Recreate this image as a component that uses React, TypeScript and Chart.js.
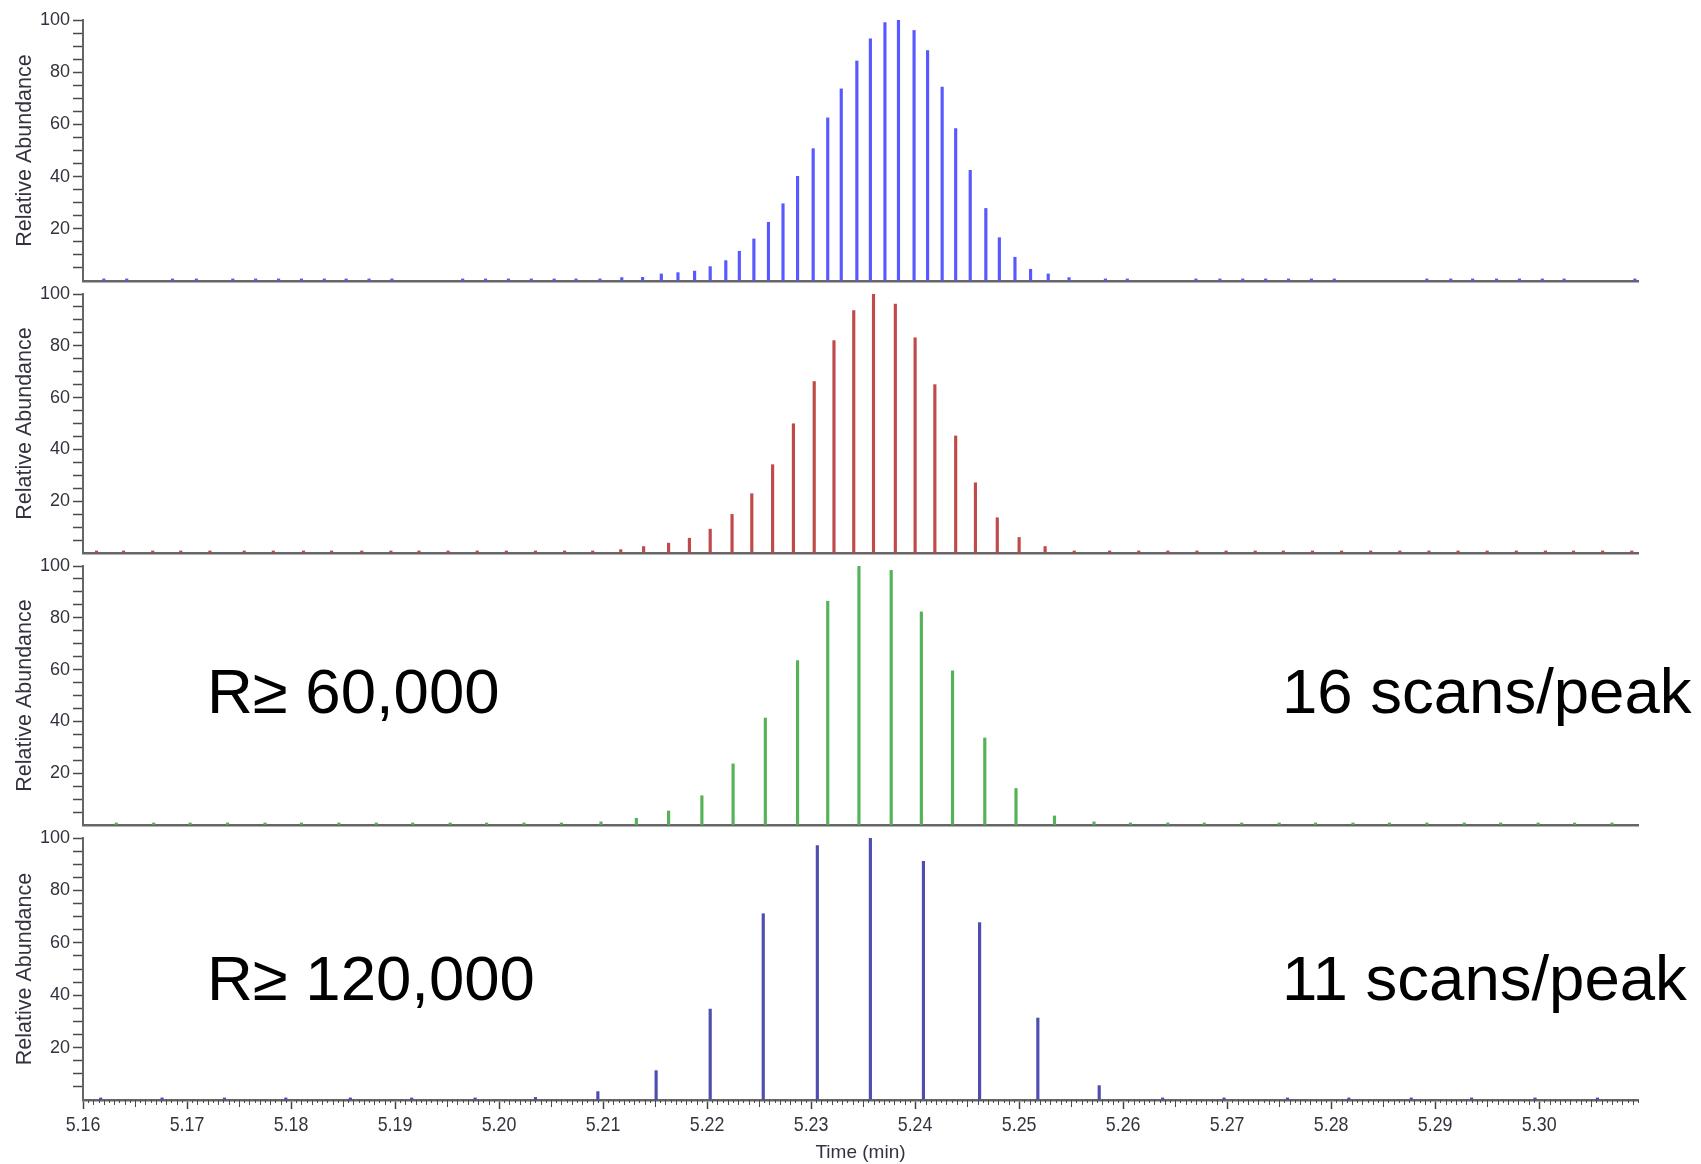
import React, { useEffect, useRef } from "react";
import { Chart, registerables } from "chart.js";

Chart.register(...registerables);

// ---------- data ----------
const X_MIN = 5.16;
const X_MAX = 5.3095;
const X_TICKS = [5.16, 5.17, 5.18, 5.19, 5.2, 5.21, 5.22, 5.23, 5.24, 5.25, 5.26, 5.27, 5.28, 5.29, 5.3];
const Y_TICKS = [0, 5, 10, 15, 20, 25, 30, 35, 40, 45, 50, 55, 60, 65, 70, 75, 80, 85, 90, 95, 100];
const Y_LABELS = [20, 40, 60, 80, 100];

// Panel 1 (blue)
const P1_TIME = [
  5.162, 5.1642, 5.1686, 5.1709, 5.1744, 5.1766, 5.1788, 5.181, 5.1832, 5.1853, 5.1875, 5.1897,
  5.1965, 5.1987, 5.2009, 5.2031, 5.2053, 5.2074, 5.2097,
  5.2118, 5.2138, 5.2156, 5.2172, 5.2188, 5.2203, 5.2218, 5.2231, 5.2245, 5.2259, 5.2273, 5.2287,
  5.2302, 5.2316, 5.2329, 5.2344, 5.2357, 5.2371, 5.2384, 5.2399, 5.2412, 5.2426, 5.2439, 5.2453,
  5.2468, 5.2481, 5.2496, 5.2511, 5.2528, 5.2548, 5.2583,
  5.2604, 5.267, 5.2693, 5.2715, 5.2737, 5.2759, 5.2781, 5.2803, 5.2892, 5.2915, 5.2936, 5.2959,
  5.2981, 5.3003, 5.3024, 5.3092,
];
const P1_ABUND = [
  0.8, 0.8, 0.8, 0.8, 0.8, 0.8, 0.8, 0.8, 0.8, 0.8, 0.8, 0.8,
  0.8, 0.8, 0.8, 0.8, 0.8, 0.8, 0.8,
  1.3, 1.4, 2.7, 3.2, 3.8, 5.5, 7.8, 11.4, 16.1, 22.5, 29.6, 40.1,
  50.7, 62.5, 73.6, 84.3, 92.8, 99.0, 100, 96.0, 88.3, 74.3, 58.4, 42.4,
  27.8, 16.6, 9.1, 4.5, 2.7, 1.3, 0.8,
  0.8, 0.8, 0.8, 0.8, 0.8, 0.8, 0.8, 0.8, 0.8, 0.8, 0.8, 0.8,
  0.8, 0.8, 0.8, 0.8,
];

// Panel 2 (red)
const P2_TIME = [
  5.1613, 5.1639, 5.1667, 5.1694, 5.1722, 5.1755, 5.1783, 5.1812, 5.1839, 5.1868, 5.1896, 5.1923,
  5.1951, 5.1979, 5.2007, 5.2035, 5.2063, 5.209,
  5.2117, 5.2139, 5.2163, 5.2183, 5.2203, 5.2224, 5.2243, 5.2263, 5.2283, 5.2303, 5.2322, 5.2341,
  5.236, 5.2381, 5.24, 5.2419, 5.2439, 5.2458, 5.2479, 5.25, 5.2525, 5.2553, 5.2587,
  5.2615, 5.2643, 5.2671, 5.2699, 5.2727, 5.2754, 5.2782, 5.281, 5.2838, 5.2866, 5.2894, 5.2922,
  5.295, 5.2978, 5.3006, 5.3033, 5.3061, 5.3089,
];
const P2_ABUND = [
  0.8, 0.8, 0.8, 0.8, 0.8, 0.8, 0.8, 0.8, 0.8, 0.8, 0.8, 0.8,
  0.8, 0.8, 0.8, 0.8, 0.8, 0.8,
  1.3, 2.5, 3.8, 5.7, 9.2, 14.9, 22.9, 34.1, 49.9, 66.2, 82.0, 93.6,
  100, 96.1, 83.1, 65.0, 45.2, 27.1, 13.6, 6.0, 2.5, 0.8, 0.8,
  0.8, 0.8, 0.8, 0.8, 0.8, 0.8, 0.8, 0.8, 0.8, 0.8, 0.8, 0.8,
  0.8, 0.8, 0.8, 0.8, 0.8, 0.8,
];

// Panel 3 (green)
const P3_TIME = [
  5.1632, 5.1668, 5.1703, 5.1739, 5.1775, 5.181, 5.1846, 5.1882, 5.1917, 5.1953, 5.1988, 5.2024,
  5.206, 5.2098, 5.2132, 5.2163, 5.2195, 5.2225, 5.2256, 5.2287, 5.2316, 5.2346, 5.2377, 5.2406,
  5.2436, 5.2467, 5.2497, 5.2534, 5.2572,
  5.2607, 5.2643, 5.2678, 5.2714, 5.275, 5.2785, 5.2821, 5.2856, 5.2892, 5.2928, 5.2963, 5.2999,
  5.3034, 5.307,
];
const P3_ABUND = [
  0.8, 0.8, 0.8, 0.8, 0.8, 0.8, 0.8, 0.8, 0.8, 0.8, 0.8, 0.8,
  0.8, 1.2, 2.6, 5.4, 11.3, 23.6, 41.3, 63.5, 86.4, 100, 98.3, 82.3,
  59.5, 33.6, 14.1, 3.5, 1.2,
  0.8, 0.8, 0.8, 0.8, 0.8, 0.8, 0.8, 0.8, 0.8, 0.8, 0.8, 0.8,
  0.8, 0.8,
];

// Panel 4 (dark blue)
const P4_TIME = [
  5.1617, 5.1676, 5.1736, 5.1795, 5.1857, 5.1916, 5.1977,
  5.2035, 5.2095, 5.2151, 5.2203, 5.2254, 5.2306, 5.2357, 5.2408, 5.2462, 5.2518, 5.2577,
  5.2638, 5.2697, 5.2758, 5.2817, 5.2877, 5.2935, 5.2996, 5.3056,
];
const P4_ABUND = [
  0.8, 0.8, 0.8, 0.8, 0.8, 0.8, 0.8,
  1.0, 3.2, 11.2, 34.7, 71.1, 97.1, 100, 91.1, 67.7, 31.3, 5.5,
  0.8, 0.8, 0.8, 0.8, 0.8, 0.8, 0.8, 0.8,
];

const PANEL_TIMES = [P1_TIME, P2_TIME, P3_TIME, P4_TIME];
const PANEL_ABUND = [P1_ABUND, P2_ABUND, P3_ABUND, P4_ABUND];

const ANNOTATION_LEFT = ["R\u2265 60,000", "R\u2265 120,000"];
const ANNOTATION_RIGHT = ["16 scans/peak", "11 scans/peak"];

// ---------- styles / layout ----------
const W = 1701;
const H = 1164;
const PLOT_LEFT = 83;
const PLOT_RIGHT = 1638;
const PANEL_TOPS = [20, 294, 566, 838];
const PANEL_BOTTOMS = [281, 553, 825, 1100];
const PANEL_COLORS = ["rgb(88,88,255)", "rgb(192,74,74)", "rgb(86,178,86)", "rgb(78,78,176)"];
const AXIS_COLOR = "#666666";
const TEXT_COLOR = "#33333f";
const REGULAR = "'Liberation Sans', Arial, sans-serif";

const minorTicksPlugin = {
  id: "minorTicks",
  afterDraw(chart: any) {
    const xs = chart.scales.x;
    const ctx = chart.ctx;
    const y0 = xs.top;
    ctx.save();
    ctx.strokeStyle = "#4a4a4a";
    ctx.lineWidth = 1;
    for (let k = 0; ; k++) {
      const v = X_MIN + k * 0.0005;
      if (v > X_MAX + 1e-9) break;
      if (k % 20 === 0) continue;
      const len = k % 10 === 0 ? 7 : k % 2 === 0 ? 5 : 3;
      const px = Math.round(xs.getPixelForValue(v)) + 0.5;
      ctx.beginPath();
      ctx.moveTo(px, y0);
      ctx.lineTo(px, y0 + len);
      ctx.stroke();
    }
    // condensed tick labels (narrow Arial look)
    ctx.fillStyle = TEXT_COLOR;
    ctx.font = "21px " + REGULAR;
    ctx.textAlign = "center";
    ctx.textBaseline = "alphabetic";
    for (const v of X_TICKS) {
      const px = xs.getPixelForValue(v);
      ctx.save();
      ctx.translate(px, xs.top + 31);
      ctx.scale(0.85, 1);
      ctx.fillText(v.toFixed(2), 0, 0);
      ctx.restore();
    }
    ctx.restore();
  },
};

function Panel({ index }: { index: number }) {
  const ref = useRef<HTMLCanvasElement | null>(null);
  const isLast = index === 3;
  const canvasTop = index === 0 ? 0 : PANEL_TOPS[index] - 14;
  const padTop = PANEL_TOPS[index] - canvasTop;
  const padBottom = isLast ? 0 : 14;
  const canvasHeight = isLast ? H - canvasTop : PANEL_BOTTOMS[index] + padBottom - canvasTop;
  const xHeight = isLast ? H - PANEL_BOTTOMS[index] : 0;

  useEffect(() => {
    if (!ref.current) return;
    const times = PANEL_TIMES[index];
    const vals = PANEL_ABUND[index];
    const chart = new Chart(ref.current, {
      type: "bar",
      data: {
        datasets: [
          {
            data: times.map((t, k) => ({ x: t, y: vals[k] })),
            backgroundColor: PANEL_COLORS[index],
            borderWidth: 0,
            barThickness: 2.5,
          } as any,
        ],
      },
      options: {
        animation: false,
        responsive: false,
        maintainAspectRatio: false,
        devicePixelRatio: 1,
        events: [],
        layout: { padding: { top: padTop, bottom: padBottom, left: 0, right: W - PLOT_RIGHT } },
        plugins: { legend: { display: false }, tooltip: { enabled: false }, title: { display: false } },
        scales: {
          x: {
            type: "linear",
            min: X_MIN,
            max: X_MAX,
            offset: false,
            afterBuildTicks: (s: any) => {
              s.ticks = X_TICKS.map((v) => ({ value: v }));
            },
            afterFit: (s: any) => {
              s.height = xHeight;
            },
            grid: {
              display: isLast,
              drawOnChartArea: false,
              drawTicks: isLast,
              tickLength: 9,
              tickColor: "#444",
              tickWidth: 1.5,
              offset: false,
            },
            border: { display: true, color: AXIS_COLOR, width: 2.5 },
            ticks: { display: false },
            title: {
              display: isLast,
              text: "Time (min)",
              color: TEXT_COLOR,
              font: { family: REGULAR, size: 19 },
              padding: { top: 0, bottom: 0 },
            },
          },
          y: {
            min: 0,
            max: 100,
            afterBuildTicks: (s: any) => {
              s.ticks = Y_TICKS.map((v) => ({ value: v }));
            },
            afterFit: (s: any) => {
              s.width = PLOT_LEFT;
            },
            grid: {
              drawOnChartArea: false,
              drawTicks: true,
              tickLength: 10,
              tickWidth: 1.5,
              tickColor: (c: any) => (c.tick && c.tick.value === 0 ? "rgba(0,0,0,0)" : "#4a4a4a"),
            },
            border: { display: true, color: AXIS_COLOR, width: 2 },
            ticks: {
              padding: 3,
              autoSkip: false,
              color: TEXT_COLOR,
              font: { family: REGULAR, size: 18 },
              callback: (v: any) => (Y_LABELS.includes(Number(v)) ? String(v) : ""),
            },
            title: {
              display: true,
              text: "Relative Abundance",
              color: TEXT_COLOR,
              font: { family: REGULAR, size: 21.5 },
              padding: { top: 12, bottom: 0 },
            },
          },
        },
      } as any,
      plugins: isLast ? [minorTicksPlugin] : [],
    });
    return () => chart.destroy();
  }, [index]);

  return (
    <canvas
      ref={ref}
      width={W}
      height={canvasHeight}
      style={{ position: "absolute", left: 0, top: canvasTop, width: W, height: canvasHeight }}
    />
  );
}

const annotationStyle: React.CSSProperties = {
  position: "absolute",
  fontFamily: REGULAR,
  fontSize: 63.5,
  lineHeight: 1,
  color: "#000",
  whiteSpace: "nowrap",
};

export default function App() {
  const baselines = [714, 1001];
  const asc = 0.8465 * 63.5;
  return (
    <div style={{ position: "absolute", left: 0, top: 0, width: W, height: H, background: "#fff", overflow: "hidden" }}>
      {[0, 1, 2, 3].map((i) => (
        <Panel key={i} index={i} />
      ))}
      {ANNOTATION_LEFT.map((t, i) => (
        <div key={"l" + i} style={{ ...annotationStyle, left: 207, top: baselines[i] - asc }}>
          {t}
        </div>
      ))}
      {ANNOTATION_RIGHT.map((t, i) => (
        <div key={"r" + i} style={{ ...annotationStyle, left: 1282, top: baselines[i] - asc }}>
          {t}
        </div>
      ))}
    </div>
  );
}
